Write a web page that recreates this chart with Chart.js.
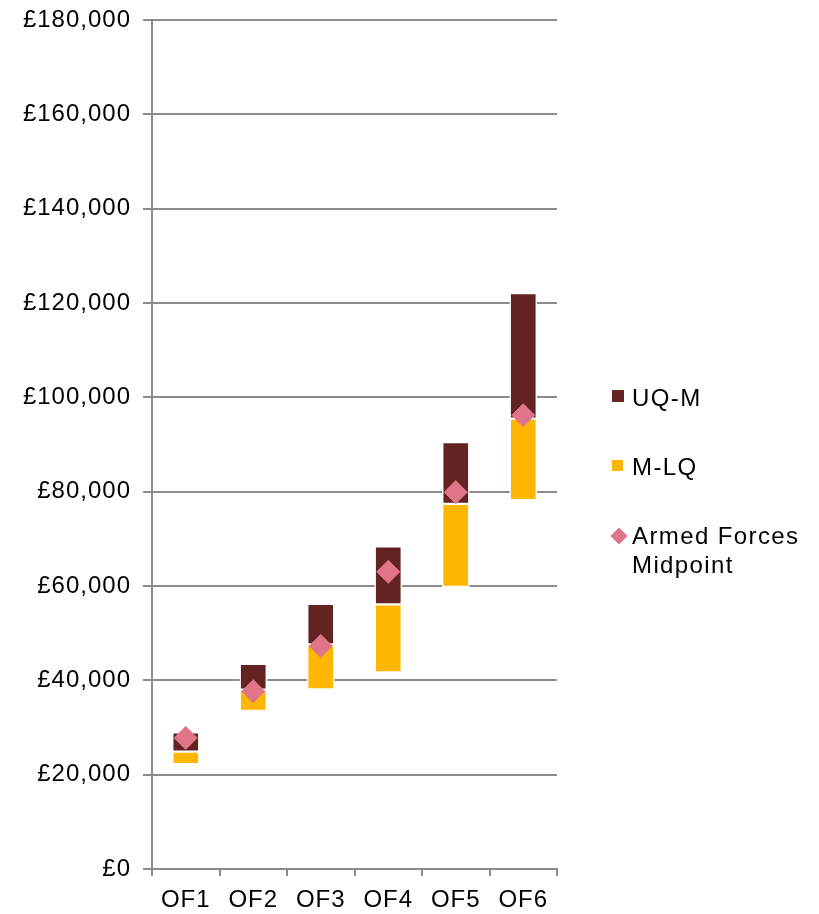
<!DOCTYPE html>
<html>
<head>
<meta charset="utf-8">
<script src="https://cdn.jsdelivr.net/npm/chart.js@4.4.1/dist/chart.umd.min.js"></script>
<style>
    html, body { margin: 0; padding: 0; background: #fff; }
    #wrap { position: relative; width: 819px; height: 914px; overflow: hidden; }
    #chart { position: absolute; left: 0; top: 0; }
    .legend-item {
        position: absolute;
        left: 632px;
        font: 24px "Liberation Sans", Arial, sans-serif;
        letter-spacing: 1.4px;
        line-height: 29px;
        color: #000;
        white-space: nowrap;
    }
    .swatch { position: absolute; }
</style>
</head>
<body>
<div id="wrap">
    <canvas id="chart" width="819" height="914"></canvas>
    <div id="legend"></div>
</div>
<script>
const categories = ["OF1", "OF2", "OF3", "OF4", "OF5", "OF6"];
const lowerQuartile = [22200, 33500, 38100, 41700, 59800, 78200];
const median = [24900, 38000, 47600, 56100, 77400, 95500];
const upperQuartile = [29000, 43500, 56200, 68400, 90500, 122100];
const armedForcesMidpoint = [27800, 37700, 47300, 63000, 79900, 96200];
const seriesNames = ["UQ-M", "M-LQ", "Armed Forces Midpoint"];

const COLORS = {
    upper: "#632322",
    lower: "#FFB600",
    midpoint: "#E07589",
    grid: "#8c8c8c",
};
const FONT = { family: '"Liberation Sans", Arial, sans-serif', size: 24 };

// floating bars: [from, to] pairs built from the quartile arrays
const upperRange = median.map((m, i) => [m, upperQuartile[i]]);
const lowerRange = lowerQuartile.map((lq, i) => [lq, median[i]]);

const barStyle = {
    borderColor: "#ffffff",
    borderWidth: 1.5,
    borderSkipped: false,
    barThickness: 27,
    grouped: false,
    order: 2,
};

// the original text is a touch wider than Liberation Sans, so space it out a little
const letterSpacingPlugin = {
    id: "letterSpacing",
    beforeDraw(chart) {
        if ("letterSpacing" in chart.ctx) chart.ctx.letterSpacing = "1px";
    },
};

new Chart(document.getElementById("chart"), {
    type: "bar",
    data: {
        labels: categories,
        datasets: [
            { label: seriesNames[0], data: upperRange, backgroundColor: COLORS.upper, ...barStyle },
            { label: seriesNames[1], data: lowerRange, backgroundColor: COLORS.lower, ...barStyle },
            {
                type: "line",
                label: seriesNames[2],
                data: armedForcesMidpoint,
                showLine: false,
                pointStyle: "rectRot",
                pointRadius: 11.5,
                backgroundColor: COLORS.midpoint,
                borderColor: COLORS.midpoint,
                borderWidth: 1,
                order: 0,
            },
        ],
    },
    options: {
        responsive: false,
        animation: false,
        events: [],
        layout: { padding: { top: 20, right: 262, bottom: 0, left: 0 } },
        plugins: { legend: { display: false }, tooltip: { enabled: false } },
        scales: {
            x: {
                grid: { drawOnChartArea: false, drawTicks: true, tickLength: 7, color: COLORS.grid, lineWidth: 2 },
                border: { color: COLORS.grid, width: 2 },
                ticks: { font: FONT, color: "#000", padding: 10 },
                afterFit: (scale) => { scale.height = 45; },
            },
            y: {
                min: 0,
                max: 180000,
                grid: { color: COLORS.grid, lineWidth: 2, tickLength: 9 },
                border: { color: COLORS.grid, width: 2 },
                ticks: {
                    stepSize: 20000,
                    font: FONT,
                    color: "#000",
                    padding: 12,
                    callback: (v) => "£" + Number(v).toLocaleString("en-GB"),
                },
                afterFit: (scale) => {
                    scale.width = 152;
                    scale.paddingTop = 0;
                    scale.paddingBottom = 0;
                },
            },
        },
    },
    plugins: [letterSpacingPlugin],
});

// html legend on the right, same order as the original
const legendEl = document.getElementById("legend");
const legendRows = [
    { text: seriesNames[0], top: 383, swatch: { left: 612, top: 390, size: 12, color: COLORS.upper } },
    { text: seriesNames[1], top: 452, swatch: { left: 612, top: 460, size: 11, color: COLORS.lower } },
    { text: "Armed Forces<br>Midpoint", top: 521, swatch: { left: 612.5, top: 529.5, size: 12, color: COLORS.midpoint, rot: true } },
];
legendRows.forEach((row) => {
    const sw = document.createElement("div");
    sw.className = "swatch";
    sw.style.left = row.swatch.left + "px";
    sw.style.top = row.swatch.top + "px";
    sw.style.width = row.swatch.size + "px";
    sw.style.height = row.swatch.size + "px";
    sw.style.background = row.swatch.color;
    if (row.swatch.rot) sw.style.transform = "rotate(45deg)";
    legendEl.appendChild(sw);

    const item = document.createElement("div");
    item.className = "legend-item";
    item.style.top = row.top + "px";
    item.innerHTML = row.text;
    legendEl.appendChild(item);
});
</script>
</body>
</html>
